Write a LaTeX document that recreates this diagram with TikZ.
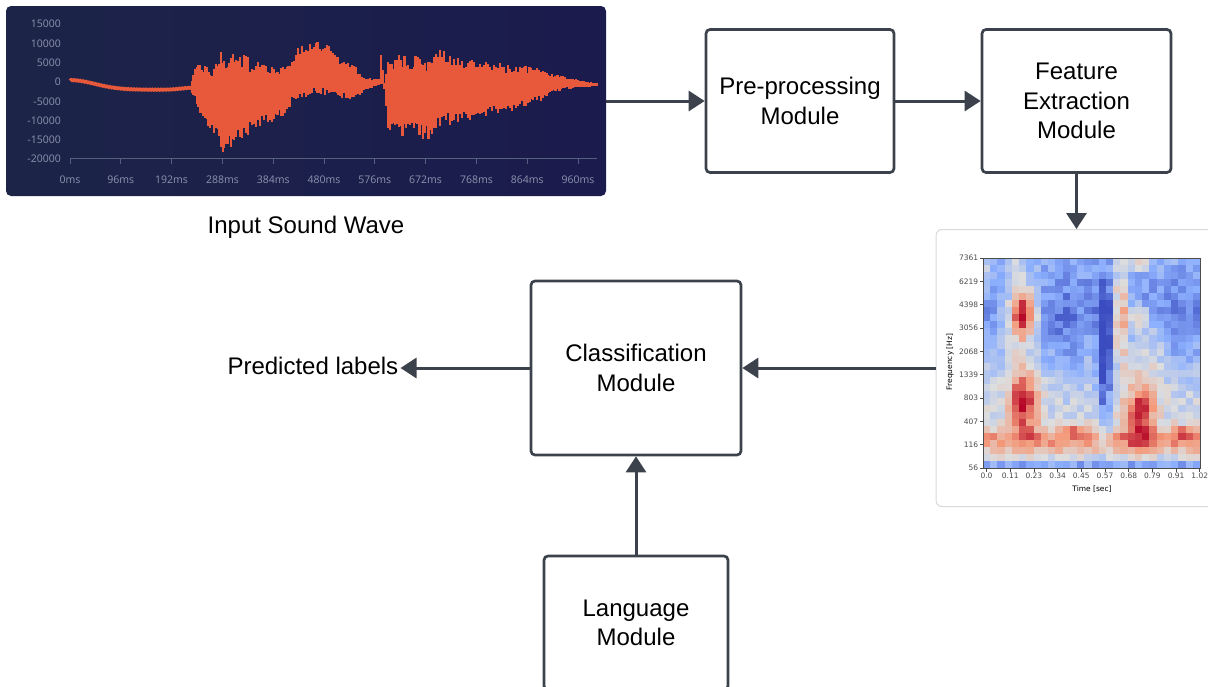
\documentclass[tikz,border=0pt]{standalone}
\usepackage{fontspec}
\setmainfont{Liberation Sans}
\newfontfamily\wavefont{Open Sans}
\newfontfamily\plotfont{DejaVu Sans}
\usetikzlibrary{arrows.meta}
\definecolor{linecol}{HTML}{3C424C}
\definecolor{wavecol}{HTML}{E8583A}
\definecolor{panelL}{HTML}{1C2448}
\definecolor{panelR}{HTML}{1B1B4D}
\definecolor{axiscol}{HTML}{55607F}
\definecolor{labcol}{HTML}{8C94AF}
\definecolor{cwA}{HTML}{3B4CC0}
\definecolor{cwB}{HTML}{8DB0FE}
\definecolor{cwC}{HTML}{DDDDDD}
\definecolor{cwD}{HTML}{F49A7B}
\definecolor{cwE}{HTML}{B40426}

\begin{document}
\begin{tikzpicture}[x=1pt, y=-1pt,
  main/.style = {draw=linecol, line width=2.7pt, rounded corners=4pt, fill=white, align=center, font=\fontsize{24}{29.3}\selectfont, inner sep=0pt},
  edge/.style = {draw=linecol, line width=3pt, -{Triangle[length=16pt,width=20pt]}},
  wavepen/.style = {draw=wavecol, line width=2.3pt},
  wavelab/.style = {text=labcol, font=\wavefont\fontsize{10.5}{12}\selectfont, inner sep=1pt},
  plotlab/.style = {font=\plotfont\fontsize{7.5}{9}\selectfont, inner sep=1pt},
  declare function = {G(\a,\w)=exp(-min((\a/\w)*(\a/\w),9));}]

	\useasboundingbox (0,0) rectangle (1208,686);

	% sound wave panel
	\node[minimum width=600pt, minimum height=190pt, rounded corners=5pt, left color=panelL, right color=panelR] (0) at (306,101) {};

	\foreach \amp/\th [count=\k] in {15000/15,10000/10,5000/5,0/0,-5000/-5,-10000/-10,-15000/-15,-20000/-20}
		\node[wavelab, anchor=east] (ya\k) at (62,{82-3.86*\th}) {\amp};
	\draw[axiscol, line width=1pt] (70,158.5) -- (597,158.5);
	\foreach \ms [count=\k from 0] in {0,96,...,960} {
		\draw[axiscol, line width=1pt] (70+\k*50.8,158.5) -- ++(0,5.5);
		\node[wavelab] (xa\k) at (70+\k*50.8,180) {\ms ms};
	}

	% quiet start of the wave
	\draw[wavepen, line width=3pt] plot[domain=70:192, samples=250]
		(\x, {82-3.86*(-2+2.5*exp(-min(((\x-70)/35)*((\x-70)/35),9))+0.5*exp(-min(((\x-192)/15)*((\x-192)/15),9)))+0.6*sin(mod(\x,3)*120)});

	% loud part: columns between upper and lower envelope
	\pgfmathsetseed{11}
	\foreach \xb/\ub/\lb [remember=\xb as \xa (initially 190), remember=\ub as \ua (initially -1.5), remember=\lb as \la (initially -2)] in
		{195/4/-5, 200/5/-9, 205/5.5/-12, 212/4.5/-14, 218/6/-15, 221/9.5/-19.5, 226/7/-17, 231/8/-19.2,
		 236/8.5/-17.5, 242/8/-15.5, 250/6/-13.5, 260/5.5/-12, 272/4.5/-10.5, 285/4/-9, 292/7/-6,
		 300/9.5/-5, 312/10.5/-4, 325/10.5/-4, 335/9/-4, 340/6/-4.5, 352/5/-5, 360/3/-4, 364/1.5/-2,
		 372/1/-1.5, 379/1/-1, 381/8/-0.5, 384/0/-2, 388/6/-13, 395/7/-14.5, 410/7/-14, 425/6.5/-15,
		 432/7/-15.5, 440/9/-12, 460/6/-10.5, 480/6/-9.5, 500/5.5/-8, 506/4.5/-8.5, 520/4.5/-7,
		 535/4/-5.5, 541/3/-5, 550/2.5/-3, 565/1.5/-2, 580/0.5/-1.5, 597/-0.3/-1.2} {
		\pgfmathtruncatemacro\nn{max(1,round((\xb-\xa)/2))}
		\foreach \k in {1,...,\nn} {
			\pgfmathsetmacro\wx{\xa+(\xb-\xa)*\k/\nn}
			\pgfmathsetmacro\wu{\ua+(\ub-\ua)*\k/\nn}
			\pgfmathsetmacro\wl{\la+(\lb-\la)*\k/\nn}
			\pgfmathsetmacro\wm{(\wu+\wl)/2}
			\draw[wavepen] (\wx,{82-3.86*(\wm+(\wu-\wm)*(0.65+0.35*rnd))}) -- (\wx,{82-3.86*(\wm+(\wl-\wm)*(0.65+0.35*rnd))});
		}
	}

	\node (7) at (306,227) {\fontsize{24}{29}\selectfont Input Sound Wave};

	% spectrogram panel
	\node[draw=gray!30, line width=1pt, rounded corners=6pt, fill=white, minimum width=284pt, minimum height=277pt] (3) at (1078,368) {};

	\pgfmathsetseed{5}
	\foreach \i in {0,...,29} {
		\foreach \j in {0,...,29} {
			\pgfmathsetmacro\ts{(\i+0.5)/30}
			\pgfmathsetmacro\fs{1-(\j+0.5)/30}
			\pgfmathsetmacro\val{max(-1,min(1,
				-0.08+0.35*(rnd-0.5)
				-0.55*G(\fs-0.8,0.3)
				+0.45*G(\ts-0.14,0.04)*G(\fs-0.95,0.05)
				+0.45*G(\ts-0.01,0.02)*G(\fs-0.9,0.08)
				+1.5*G(\ts-0.18,0.065)*G(\fs-0.74,0.14)
				+1.1*G(\ts-0.185,0.065)*G(\fs-0.32,0.16)
				+0.55*G(\fs-0.13,0.06)
				+0.45*G(\ts-0.42,0.06)*G(\fs-0.17,0.03)
				+1.0*G(\ts-0.72,0.07)*G(\fs-0.25,0.12)
				+0.4*G(\ts-0.92,0.05)*G(\fs-0.17,0.03)
				+1.1*G(\ts-0.635,0.03)*G(\fs-0.75,0.22)
				+0.6*G(\ts-0.72,0.05)*G(\fs-0.72,0.06)
				+0.55*G(\ts-0.73,0.05)*G(\fs-0.97,0.04)
				+0.3*G(\ts-0.75,0.08)*G(\fs-0.5,0.2)
				-0.85*G(\ts-0.56,0.035)*G(\fs-0.5,0.35)
				-0.25*G(\ts-0.38,0.1)*G(\fs-0.6,0.2)
				-0.2*G(\ts-0.93,0.07)*G(\fs-0.6,0.2)
				-0.6*G(\fs,0.035)))}
			\ifdim\val pt<-0.5pt
				\pgfmathsetmacro\p{(-\val-0.5)*200}\colorlet{cell}{cwA!\p!cwB}
			\else\ifdim\val pt<0pt
				\pgfmathsetmacro\p{-\val*200}\colorlet{cell}{cwB!\p!cwC}
			\else\ifdim\val pt<0.5pt
				\pgfmathsetmacro\p{\val*200}\colorlet{cell}{cwD!\p!cwC}
			\else
				\pgfmathsetmacro\p{(\val-0.5)*200}\colorlet{cell}{cwE!\p!cwD}
			\fi\fi\fi
			\fill[cell] (983+\i*7.233,258+\j*7) rectangle ++(7.3,7.1);
		}
	}
	\draw[black!70, line width=0.8pt] (983,258) rectangle (1200,468);
	\foreach \hz [count=\k from 0] in {7361,6219,4398,3056,2068,1339,803,407,116,56}
		\draw[black!70, line width=0.8pt] (983,258+\k*23.33) -- ++(-3.5,0) node[plotlab, anchor=east] (fy\k) {\hz};
	\foreach \sec [count=\k from 0] in {0.0,0.11,0.23,0.34,0.45,0.57,0.68,0.79,0.91,1.02}
		\draw[black!70, line width=0.8pt] (986.5+\k*23.7,468) -- ++(0,3.5) node[plotlab, anchor=north] (fx\k) {\sec};
	\node[plotlab] (ft) at (1092,489.5) {Time [sec]};
	\node[plotlab, rotate=90] (ff) at (950,362) {Frequency [Hz]};

	% modules
	\node[main, minimum width=188pt, minimum height=143pt] (1) at (800,101) {Pre-processing\\Module};
	\node[main, minimum width=189pt, minimum height=143pt] (2) at (1076.5,101) {Feature\\Extraction\\Module};
	\node[main, minimum width=210pt, minimum height=174pt] (4) at (636,368) {Classification\\Module};
	\node[main, minimum width=184pt, minimum height=134pt] (5) at (636,623) {Language\\Module};
	\node[inner sep=2pt, anchor=east, font=\fontsize{24}{29}\selectfont] (6) at (400.5,366) {Predicted labels};

	\draw[edge] (0) -- (1);
	\draw[edge] (1) -- (2);
	\draw[edge] (2) -- (2 |- 3.north);
	\draw[edge] (3) -- (4);
	\draw[edge] (4) -- (4.west -| 6.east);
	\draw[edge] (5) -- (4);

\end{tikzpicture}
\end{document}
